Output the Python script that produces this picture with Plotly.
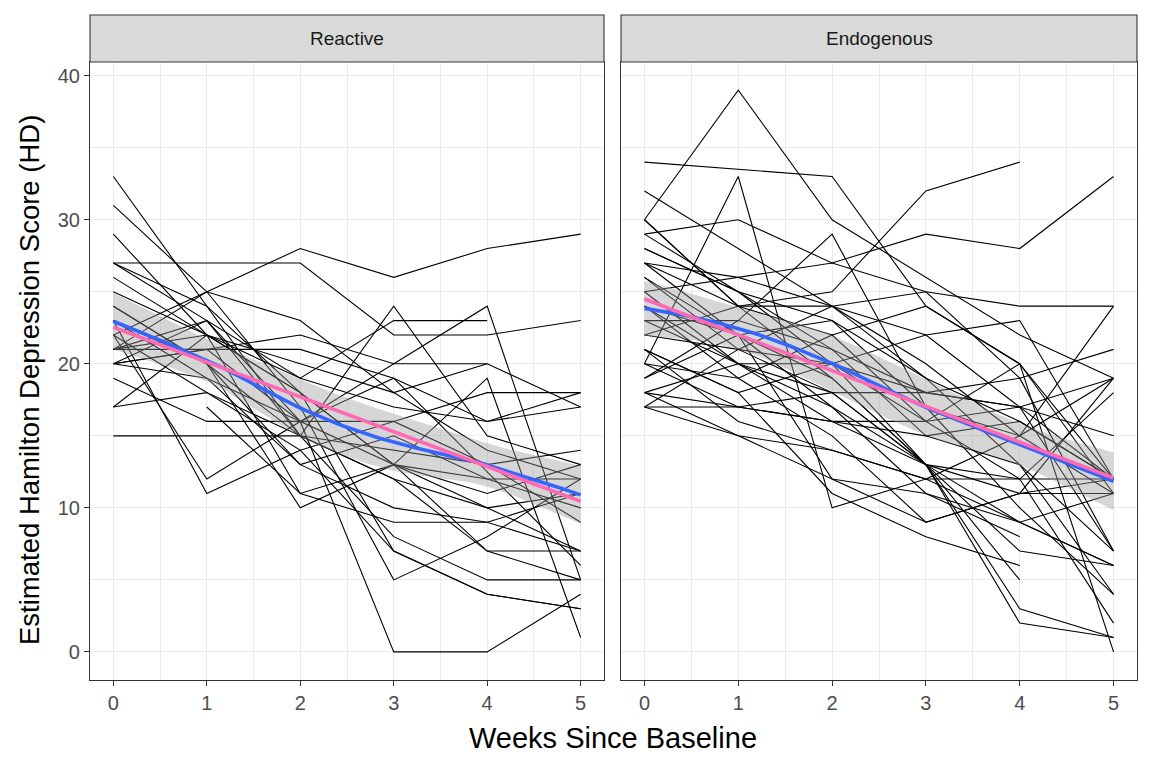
import numpy as np
import plotly.graph_objects as go

weeks = [0, 1, 2, 3, 4, 5]
nan = np.nan
panel_titles = ["Reactive", "Endogenous"]
x_ticks = [0, 1, 2, 3, 4, 5]
y_ticks = [0, 10, 20, 30, 40]

reactive = [
    [22, 25, 28, 26, 28, 29],
    [27, 27, 27, 22, 22, 23],
    [33, 24, 15, 24, 15, 13],
    [26, 22, 18, 7, 4, 3],
    [29, 22, 18, 13, 19, 1],
    [22, 12, 16, 16, 13, 9],
    [21, 25, 23, 18, 20, nan],
    [21, 21, 16, 19, nan, 6],
    [21, 22, 11, 9, 9, 7],
    [21, 23, 19, 23, 23, nan],
    [nan, 17, 11, 13, 7, 7],
    [19, 16, 16, 13, nan, 7],
    [15, 15, 15, 12, 7, 5],
    [31, 25, 17, 5, 8, 12],
    [27, 24, 18, 13, 12, 12],
    [20, 21, 22, 20, 20, 17],
    [17, 18, 15, 14, 13, 14],
    [25, 22, 19, 17, 16, 17],
    [20, 21, 21, 19, 16, 18],
    [24, 20, 13, 15, 12, 10],
    [27, 23, 16, 0, 0, 4],
    [23, 11, 14, 7, 4, 3],
    [20, 19, 16, 20, 24, 5],
    [24, 20, 10, 13, 11, 13],
    [22, 18, 14, 16, 18, 18],
    [23, 20, 15, 12, 10, 11],
    [17, 22, 20, 18, 14, 12],
    [20, 23, 15, 8, 5, 5],
    [23, 19, 13, 10, 9, 11],
]

endogenous = [
    [30, 39, 30, 26, 22, 19],
    [34, 33.5, 33, 24, 20, 12],
    [20, 33, 10, 12, 9, 11],
    [29, 30, 27, 29, 28, 33],
    [22, 24, 25, 32, 34, nan],
    [32, 28, 24, 22, 17, 12],
    [30, 24, 24, 20, 15, 11],
    [28, 25, 23, 19, 13, 7],
    [27, 22, 17, 13, 9, 6],
    [25, 26, 27, 25, 24, 24],
    [24, 20, 16, 13, 12, 12],
    [18, 17, 16, 16, 17, 15],
    [17, 17, 18, 13, 11, 12],
    [19, 22, 12, 9, 11, 19],
    [21, 18, 11, 8, 6, nan],
    [29, 25, 20, 13, 3, 1],
    [24, 22, 19, 13, 2, 1],
    [23, 20, 18, 18, 19, 21],
    [17, 15, 14, 12, 15, 24],
    [20, 19, 22, 16, 20, 0],
    [28, 25, 21, 15, 13, 4],
    [25, 20, 17, 11, 8, nan],
    [21, 16, 14, 12, 12, 18],
    [18, 20, 20, 18, 17, 7],
    [22, 21, 20, 22, 23, 12],
    [27, 24, 22, 24, 20, 11],
    [20, 17, 16, 15, 16, 12],
    [26, 21, 18, 13, 5, nan],
    [19, 23, 29, 17, 15, 19],
    [17, 21, 24, 25, 19, 7],
    [27, 26, 24, 19, 16, 12],
    [24, 19, 15, 9, 11, 11],
    [21, 18, 20, 16, 12, 2],
    [18, 15, 12, 11, 9, 6],
    [23, 23, 21, 18, 17, 19],
    [30, 24, 19, 13, 7, 6],
    [26, 22, 23, 17, 10, 4],
]


def loess_fit(x, y, xs, vertices, span=0.75):
    n = len(x)
    q = int(np.floor(n * span))

    def solve_at(x0):
        d = np.abs(x - x0)
        dq = np.sort(d)[q - 1]
        u = np.clip(d / dq, 0, 1)
        w = (1 - u ** 3) ** 3
        X = np.column_stack([np.ones(n), x - x0, (x - x0) ** 2])
        A = X.T @ (w[:, None] * X)
        B = (X * w[:, None]).T
        return np.linalg.solve(A, B)

    L = np.array([solve_at(v)[0] for v in x])
    res = y - L @ y
    IL = np.eye(n) - L
    d1 = np.trace(IL.T @ IL)
    s = np.sqrt(np.sum(res ** 2) / d1)
    vf, vg, vs = [], [], []
    for v in vertices:
        S = solve_at(v)
        vf.append(S[0] @ y)
        vg.append(S[1] @ y)
        vs.append(s * np.sqrt(np.sum(S[0] ** 2)))
    vf, vg, vs = map(np.array, (vf, vg, vs))
    sg = np.gradient(vs, vertices)

    def herm(vals, slopes, xq):
        out = []
        for xv in xq:
            i = min(int(np.searchsorted(vertices, xv, side="right")) - 1, len(vertices) - 2)
            i = max(i, 0)
            h = vertices[i + 1] - vertices[i]
            t = (xv - vertices[i]) / h
            h00 = 2 * t ** 3 - 3 * t ** 2 + 1
            h10 = t ** 3 - 2 * t ** 2 + t
            h01 = -2 * t ** 3 + 3 * t ** 2
            h11 = t ** 3 - t ** 2
            out.append(h00 * vals[i] + h10 * h * slopes[i] + h01 * vals[i + 1] + h11 * h * slopes[i + 1])
        return np.array(out)

    return herm(vf, vg, xs), herm(vs, sg, xs)


OFF = 8  # page body margin
W, H = 1152 - OFF, 768 - OFF
px_l = [(90 - OFF, 604 - OFF), (621 - OFF, 1137 - OFF)]
y_top, y_bot = 62 - OFF, 680 - OFF
ydom = [(H - y_bot) / H, (H - y_top) / H]

fig = go.Figure()
xs = np.linspace(0, 5, 101)
verts = np.array(weeks, float)

for p, data in enumerate([reactive, endogenous]):
    xa = "x" if p == 0 else "x2"
    ya = "y" if p == 0 else "y2"
    lx, ly = [], []
    allx, ally = [], []
    for subj in data:
        for wk, v in zip(weeks, subj):
            if not np.isnan(v):
                lx.append(wk)
                ly.append(v)
                allx.append(wk)
                ally.append(v)
        lx.append(None)
        ly.append(None)
    fig.add_trace(go.Scatter(x=lx, y=ly, mode="lines", xaxis=xa, yaxis=ya,
                             line=dict(color="black", width=1.1),
                             showlegend=False, hoverinfo="skip"))
    ax = np.array(allx, float)
    ay = np.array(ally, float)
    fit, se = loess_fit(ax, ay, xs, verts)
    t = 1.97
    fig.add_trace(go.Scatter(x=xs, y=fit - t * se, mode="lines", xaxis=xa, yaxis=ya,
                             line=dict(width=0), showlegend=False, hoverinfo="skip"))
    fig.add_trace(go.Scatter(x=xs, y=fit + t * se, mode="lines", xaxis=xa, yaxis=ya,
                             line=dict(width=0), fill="tonexty",
                             fillcolor="rgba(153,153,153,0.4)",
                             showlegend=False, hoverinfo="skip"))
    fig.add_trace(go.Scatter(x=xs, y=fit, mode="lines", xaxis=xa, yaxis=ya,
                             line=dict(color="#3366FF", width=3.6),
                             showlegend=False, hoverinfo="skip"))
    b, a = np.polyfit(ax, ay, 1)
    fig.add_trace(go.Scatter(x=xs, y=a + b * xs, mode="lines", xaxis=xa, yaxis=ya,
                             line=dict(color="#FF69B4", width=3.6),
                             showlegend=False, hoverinfo="skip"))

font = "Liberation Sans, Arial, sans-serif"
axis_common = dict(
    showline=True, mirror=True, linecolor="#333333", linewidth=1.1,
    ticks="outside", ticklen=5, tickcolor="#333333", tickwidth=1.1,
    tickfont=dict(family=font, size=20, color="#4D4D4D"),
    gridcolor="#EBEBEB", gridwidth=1.1, zeroline=False,
)
layout = dict(
    width=W, height=H, margin=dict(l=0, r=0, t=0, b=0),
    paper_bgcolor="white", plot_bgcolor="white", showlegend=False,
)
for p, (a0, a1) in enumerate(px_l):
    sfx = "" if p == 0 else "2"
    layout["xaxis" + sfx] = dict(
        axis_common, domain=[a0 / W, a1 / W], range=[-0.25, 5.25],
        tickvals=x_ticks, anchor="y" + sfx,
        minor=dict(dtick=0.5, tick0=0, showgrid=True, gridcolor="#EBEBEB", gridwidth=0.55),
    )
    layout["yaxis" + sfx] = dict(
        axis_common, domain=ydom, range=[-1.95, 40.95], tickvals=y_ticks,
        anchor="x" + sfx, showticklabels=(p == 0),
        ticks="outside" if p == 0 else "",
        minor=dict(dtick=5, tick0=0, showgrid=True, gridcolor="#EBEBEB", gridwidth=0.55),
    )
fig.update_layout(**layout)

shapes, annots = [], []
for p, (a0, a1) in enumerate(px_l):
    shapes.append(dict(type="rect", xref="paper", yref="paper",
                       x0=a0 / W, x1=a1 / W, y0=(H - (62 - OFF)) / H, y1=(H - (15 - OFF)) / H,
                       fillcolor="#D9D9D9", line=dict(color="#333333", width=1.1),
                       layer="above"))
    annots.append(dict(text=panel_titles[p], xref="paper", yref="paper",
                       x=(a0 + a1) / 2 / W, y=(H - (39 - OFF)) / H, showarrow=False,
                       font=dict(family=font, size=19, color="#1A1A1A"),
                       xanchor="center", yanchor="middle"))
annots.append(dict(text="Weeks Since Baseline", xref="paper", yref="paper",
                   x=(613 - OFF) / W, y=(H - (738 - OFF)) / H, showarrow=False,
                   font=dict(family=font, size=29, color="black"),
                   xanchor="center", yanchor="middle"))
annots.append(dict(text="Estimated Hamilton Depression Score (HD)", xref="paper", yref="paper",
                   x=(29 - OFF) / W, y=(H - (380 - OFF)) / H, showarrow=False, textangle=-90,
                   font=dict(family=font, size=27.5, color="black"),
                   xanchor="center", yanchor="middle"))
fig.update_layout(shapes=shapes, annotations=annots)

fig.write_html("out.html")
